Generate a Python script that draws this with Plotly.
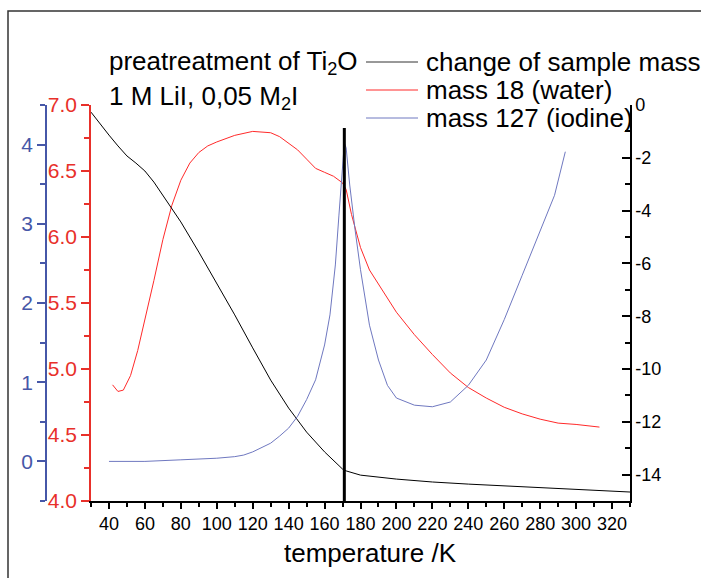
import plotly.graph_objects as go

# Thermal desorption of a pretreated TiO2 sample (1 M LiI, 0.05 M I2)
# sample mass change (right axis), mass 18 signal (red axis), mass 127 signal (blue axis)
temp_mass = [30, 35, 40, 45, 50, 55, 60, 65, 70, 80, 90, 100, 110, 120, 130, 140,
             150, 160, 170, 172, 180, 200, 220, 240, 260, 280, 300, 330]
mass_change = [-0.27, -0.72, -1.14, -1.55, -1.93, -2.20, -2.50, -2.92, -3.41, -4.43,
               -5.57, -6.74, -7.95, -9.20, -10.42, -11.48, -12.39, -13.14, -13.79,
               -13.86, -14.02, -14.17, -14.28, -14.36, -14.43, -14.51, -14.58, -14.66]

temp_water = [42, 45, 48, 52, 56, 60, 65, 70, 75, 80, 85, 90, 95, 100, 110, 120, 130,
              135, 140, 145, 150, 155, 160, 165, 170, 172, 175, 180, 185, 190, 200, 210,
              220, 230, 240, 250, 260, 270, 280, 290, 300, 313]
water = [4.88, 4.83, 4.84, 4.95, 5.14, 5.37, 5.67, 5.98, 6.24, 6.43, 6.56, 6.64, 6.69,
         6.72, 6.77, 6.80, 6.79, 6.76, 6.71, 6.66, 6.59, 6.52, 6.49, 6.46, 6.41, 6.36,
         6.17, 5.92, 5.75, 5.64, 5.43, 5.26, 5.11, 4.97, 4.86, 4.78, 4.71, 4.66, 4.62,
         4.59, 4.58, 4.56]

temp_iodine = [40, 60, 80, 90, 100, 110, 115, 120, 125, 130, 135, 140, 145, 150, 155,
               160, 163, 166, 168, 170, 171, 172, 174, 177, 180, 185, 190, 195, 200, 210,
               220, 230, 240, 250, 260, 270, 280, 288, 294]
iodine = [0.0, 0.0, 0.02, 0.03, 0.04, 0.06, 0.08, 0.12, 0.17, 0.23, 0.32, 0.42, 0.57,
          0.78, 1.03, 1.47, 1.85, 2.48, 3.11, 3.81, 4.02, 3.96, 3.49, 2.92, 2.42, 1.72,
          1.28, 0.96, 0.80, 0.71, 0.69, 0.75, 0.96, 1.28, 1.79, 2.35, 2.90, 3.36, 3.91]

marker_temp = 171

# right-hand axis labels, written with a plain hyphen
mass_ticks = [0, -2, -4, -6, -8, -10, -12, -14]
mass_tick_text = ["0", "-2", "-4", "-6", "-8", "-10", "-12", "-14"]

RED = "#e8302a"
BLUE = "#4657a8"
BLUE_LINE = "#6f78c0"
FONT = "Liberation Sans, Arial, sans-serif"

fig = go.Figure()
fig.add_trace(go.Scatter(x=temp_mass, y=mass_change, yaxis="y2", mode="lines",
                         line=dict(color="black", width=1), name="change of sample mass"))
fig.add_trace(go.Scatter(x=temp_water, y=water, yaxis="y", mode="lines",
                         line=dict(color="#ff2a2a", width=1), name="mass 18 (water)"))
fig.add_trace(go.Scatter(x=temp_iodine, y=iodine, yaxis="y3", mode="lines",
                         line=dict(color=BLUE_LINE, width=1), name="mass 127 (iodine)"))

def px(x):
    return (x - 30) / 600

def py(y):
    return (501 - y) / 396

fig.update_layout(
    width=701, height=578,
    margin=dict(l=30, r=71, t=105, b=77),
    paper_bgcolor="white", plot_bgcolor="white",
    font=dict(family=FONT, color="black"),
    showlegend=False,
    xaxis=dict(domain=[px(91), 1], range=[30, 330], showgrid=False, zeroline=False,
               showline=True, linecolor="black", linewidth=1.5,
               ticks="outside", ticklen=6, tickwidth=1.5, tickcolor="black",
               tick0=40, dtick=20, tickfont=dict(size=18),
               minor=dict(dtick=10, ticklen=4, tickwidth=1.5, ticks="outside", tickcolor="black")),
    yaxis=dict(range=[4, 7], anchor="x", side="left", showgrid=False, zeroline=False,
               showline=True, linecolor=RED, linewidth=1.5,
               ticks="outside", ticklen=8, tickwidth=1.5, tickcolor=RED,
               tick0=4, dtick=0.5, tickformat=".1f", tickfont=dict(size=21, color=RED),
               minor=dict(dtick=0.25, ticklen=5, tickwidth=1.5, ticks="outside", tickcolor=RED)),
    yaxis2=dict(range=[-15, 0], overlaying="y", anchor="x", side="right", showgrid=False,
                zeroline=False, showline=True, linecolor="black", linewidth=1.5,
                ticks="inside", ticklen=8, tickwidth=1.5, tickcolor="black",
                tickvals=mass_ticks, ticktext=mass_tick_text, tickfont=dict(size=18),
                minor=dict(dtick=1, ticklen=5, tickwidth=1.5, ticks="inside", tickcolor="black")),
    yaxis3=dict(range=[-0.5, 4.5], overlaying="y", anchor="free", position=px(46),
                side="left", showgrid=False, zeroline=False, showline=True,
                linecolor=BLUE, linewidth=1.5,
                ticks="outside", ticklen=8, tickwidth=1.5, tickcolor=BLUE,
                tick0=0, dtick=1, tickfont=dict(size=21, color=BLUE),
                minor=dict(dtick=0.5, ticklen=5, tickwidth=1.5, ticks="outside", tickcolor=BLUE)),
)

shapes = [
    # frame around the figure
    dict(type="rect", xref="paper", yref="paper", x0=px(8), x1=1.3, y0=-0.4, y1=py(11),
         line=dict(color="#333333", width=1.5), fillcolor="rgba(0,0,0,0)", layer="below"),
    # marker line at the iodine peak
    dict(type="line", xref="x", yref="paper", x0=marker_temp, x1=marker_temp,
         y0=0, y1=py(128), line=dict(color="black", width=3)),
]

legend_items = [("change of sample mass", "#333333", 62),
                ("mass 18 (water)", "#ff2a2a", 90),
                ("mass 127 (iodine)", BLUE_LINE, 118)]
annotations = [
    dict(text="preatreatment of Ti<sub>2</sub>O", x=px(107), y=py(62)),
    dict(text="1 M LiI, 0,05 M<sub>2</sub>I", x=px(107), y=py(98)),
]
for label, color, yy in legend_items:
    shapes.append(dict(type="line", xref="paper", yref="paper", x0=px(366), x1=px(418),
                       y0=py(yy), y1=py(yy), line=dict(color=color, width=1)))
    annotations.append(dict(text=label, x=px(424), y=py(yy)))

ann = []
for a in annotations:
    a.update(xref="paper", yref="paper", xanchor="left", yanchor="middle",
             showarrow=False, font=dict(size=26, color="black", family=FONT))
    ann.append(a)
ann.append(dict(text="temperature /K", xref="paper", yref="paper", x=px(370), y=py(553),
                xanchor="center", yanchor="middle", showarrow=False,
                font=dict(size=26, color="black", family=FONT)))

fig.update_layout(shapes=shapes, annotations=ann)
fig.write_html("out.html")
